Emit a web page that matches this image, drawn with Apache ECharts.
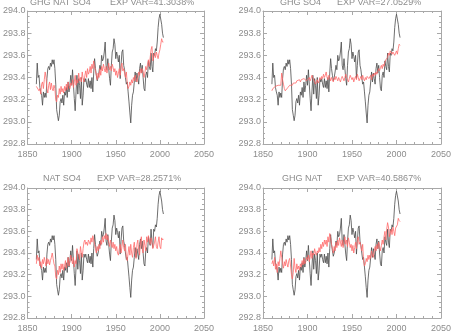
<!DOCTYPE html>
<html>
<head>
<meta charset="utf-8">
<script src="https://cdn.jsdelivr.net/npm/echarts@6/dist/echarts.min.js"></script>
<style>
  html, body { margin: 0; padding: 0; background: #fff; }
  #chart { width: 454px; height: 333px; }
</style>
</head>
<body>
<div id="chart"></div>
<script>
// Annual series, first year 1860
const firstYear = 1860;

// Observed temperature (K)
const observed = [
  293.34, 293.53, 293.40, 293.42, 293.31, 293.27, 293.24, 293.15, 293.27, 293.22,
  293.26, 293.22, 293.39, 293.48, 293.50, 293.47, 293.53, 293.50, 293.56, 293.52,
  293.56, 293.48, 293.34, 293.11, 293.06, 293.01, 293.06, 293.18, 293.21, 293.17,
  293.24, 293.15, 293.27, 293.24, 293.31, 293.22, 293.36, 293.27, 293.33, 293.42,
  293.33, 293.47, 293.34, 293.21, 293.10, 293.27, 293.42, 293.25, 293.39, 293.33,
  293.21, 293.40, 293.15, 293.24, 293.39, 293.36, 293.39, 293.34, 293.31, 293.39,
  293.31, 293.37, 293.30, 293.40, 293.27, 293.44, 293.57, 293.48, 293.42, 293.37,
  293.40, 293.45, 293.51, 293.47, 293.60, 293.55, 293.57, 293.63, 293.72, 293.51,
  293.47, 293.57, 293.48, 293.39, 293.33, 293.51, 293.63, 293.66, 293.75, 293.70,
  293.57, 293.63, 293.59, 293.54, 293.60, 293.39, 293.51, 293.63, 293.65, 293.51,
  293.47, 293.40, 293.34, 293.36, 293.27, 293.18, 293.08, 292.99, 293.15, 293.24,
  293.27, 293.36, 293.45, 293.36, 293.44, 293.39, 293.34, 293.48, 293.53, 293.44,
  293.51, 293.40, 293.30, 293.28, 293.42, 293.45, 293.40, 293.55, 293.50, 293.47,
  293.62, 293.50, 293.45, 293.62, 293.60, 293.66, 293.64, 293.72, 293.85, 293.93,
  293.97, 293.96, 293.88, 293.80, 293.76
];

// Fitted responses for each forcing combination
const fitGhgNatSo4 = [
  293.32, 293.31, 293.33, 293.28, 293.30, 293.25, 293.34, 293.36, 293.30, 293.38,
  293.45, 293.40, 293.30, 293.26, 293.33, 293.36, 293.29, 293.35, 293.30, 293.28,
  293.33, 293.30, 293.20, 293.18, 293.24, 293.22, 293.30, 293.25, 293.32, 293.27,
  293.30, 293.26, 293.32, 293.28, 293.34, 293.29, 293.36, 293.32, 293.30, 293.35,
  293.33, 293.38, 293.31, 293.36, 293.42, 293.33, 293.38, 293.35, 293.44, 293.37,
  293.40, 293.36, 293.45, 293.39, 293.36, 293.42, 293.46, 293.40, 293.48, 293.43,
  293.45, 293.50, 293.44, 293.52, 293.48, 293.55, 293.50, 293.46, 293.42, 293.38,
  293.44, 293.40, 293.48, 293.42, 293.50, 293.46, 293.52, 293.48, 293.45, 293.50,
  293.44, 293.48, 293.53, 293.47, 293.50, 293.46, 293.52, 293.49, 293.45, 293.48,
  293.42, 293.46, 293.40, 293.44, 293.48, 293.42, 293.50, 293.53, 293.46, 293.48,
  293.44, 293.40, 293.45, 293.35, 293.30, 293.32, 293.36, 293.33, 293.38, 293.35,
  293.40, 293.37, 293.42, 293.38, 293.36, 293.40, 293.45, 293.42, 293.48, 293.44,
  293.48, 293.45, 293.40, 293.44, 293.50, 293.47, 293.52, 293.56, 293.50, 293.58,
  293.65, 293.68, 293.55, 293.58, 293.62, 293.58, 293.63, 293.60, 293.57, 293.62,
  293.65, 293.70, 293.75, 293.72, 293.72
];

const fitGhgSo4 = [
  293.28, 293.30, 293.29, 293.31, 293.32, 293.31, 293.32, 293.33, 293.32, 293.34,
  293.33, 293.44, 293.38, 293.34, 293.30, 293.28, 293.27, 293.29, 293.31, 293.32,
  293.33, 293.32, 293.34, 293.33, 293.35, 293.34, 293.36, 293.35, 293.37, 293.36,
  293.37, 293.38, 293.36, 293.38, 293.39, 293.37, 293.39, 293.38, 293.40, 293.37,
  293.36, 293.38, 293.40, 293.37, 293.39, 293.42, 293.40, 293.38, 293.36, 293.34,
  293.36, 293.38, 293.35, 293.37, 293.40, 293.38, 293.41, 293.39, 293.43, 293.40,
  293.42, 293.45, 293.40, 293.38, 293.42, 293.40, 293.37, 293.40, 293.38, 293.36,
  293.40, 293.38, 293.41, 293.39, 293.37, 293.40, 293.38, 293.36, 293.39, 293.41,
  293.40, 293.37, 293.40, 293.43, 293.40, 293.38, 293.36, 293.39, 293.42, 293.40,
  293.38, 293.40, 293.36, 293.39, 293.41, 293.38, 293.43, 293.40, 293.37, 293.39,
  293.41, 293.38, 293.42, 293.39, 293.37, 293.40, 293.38, 293.41, 293.42, 293.39,
  293.40, 293.42, 293.38, 293.43, 293.41, 293.44, 293.42, 293.45, 293.43, 293.46,
  293.48, 293.46, 293.49, 293.51, 293.48, 293.52, 293.50, 293.54, 293.56, 293.55,
  293.58, 293.62, 293.60, 293.64, 293.63, 293.61, 293.63, 293.62, 293.60, 293.62,
  293.64, 293.61, 293.66, 293.70, 293.69
];

const fitNatSo4 = [
  293.30, 293.38, 293.33, 293.36, 293.28, 293.32, 293.26, 293.34, 293.30, 293.36,
  293.32, 293.28, 293.35, 293.30, 293.34, 293.29, 293.33, 293.36, 293.40, 293.35,
  293.30, 293.28, 293.18, 293.16, 293.24, 293.20, 293.28, 293.22, 293.30, 293.25,
  293.30, 293.24, 293.28, 293.33, 293.26, 293.30, 293.36, 293.28, 293.32, 293.38,
  293.34, 293.30, 293.36, 293.27, 293.33, 293.30, 293.44, 293.40, 293.38, 293.34,
  293.46, 293.40, 293.36, 293.44, 293.50, 293.52, 293.48, 293.50, 293.47, 293.52,
  293.50, 293.48, 293.54, 293.50, 293.56, 293.52, 293.48, 293.44, 293.40, 293.46,
  293.42, 293.48, 293.44, 293.52, 293.48, 293.55, 293.50, 293.56, 293.53, 293.58,
  293.52, 293.56, 293.50, 293.46, 293.52, 293.48, 293.45, 293.50, 293.44, 293.48,
  293.42, 293.46, 293.40, 293.38, 293.44, 293.48, 293.40, 293.46, 293.52, 293.45,
  293.42, 293.48, 293.36, 293.33, 293.40, 293.46, 293.38, 293.48, 293.40, 293.36,
  293.45, 293.50, 293.40, 293.35, 293.48, 293.52, 293.42, 293.38, 293.50, 293.55,
  293.44, 293.40, 293.52, 293.47, 293.42, 293.55, 293.50, 293.56, 293.52, 293.48,
  293.54, 293.50, 293.44, 293.43, 293.50, 293.55, 293.46, 293.44, 293.50, 293.55,
  293.46, 293.44, 293.54, 293.52, 293.53
];

const fitGhgNat = [
  293.30, 293.33, 293.28, 293.36, 293.25, 293.30, 293.22, 293.32, 293.28, 293.35,
  293.42, 293.36, 293.30, 293.26, 293.32, 293.28, 293.34, 293.30, 293.27, 293.33,
  293.35, 293.28, 293.20, 293.16, 293.22, 293.35, 293.26, 293.22, 293.30, 293.25,
  293.28, 293.24, 293.30, 293.27, 293.33, 293.29, 293.35, 293.30, 293.32, 293.36,
  293.34, 293.38, 293.32, 293.36, 293.42, 293.35, 293.40, 293.38, 293.44, 293.40,
  293.38, 293.42, 293.40, 293.45, 293.41, 293.48, 293.44, 293.50, 293.46, 293.52,
  293.48, 293.52, 293.46, 293.55, 293.50, 293.58, 293.54, 293.48, 293.44, 293.40,
  293.46, 293.42, 293.50, 293.45, 293.52, 293.47, 293.54, 293.50, 293.46, 293.52,
  293.45, 293.50, 293.55, 293.48, 293.52, 293.46, 293.54, 293.50, 293.45, 293.48,
  293.42, 293.47, 293.40, 293.45, 293.50, 293.44, 293.52, 293.55, 293.48, 293.50,
  293.46, 293.42, 293.48, 293.33, 293.28, 293.30, 293.35, 293.32, 293.38, 293.34,
  293.38, 293.35, 293.42, 293.38, 293.36, 293.42, 293.46, 293.42, 293.48, 293.44,
  293.50, 293.46, 293.42, 293.47, 293.52, 293.48, 293.55, 293.60, 293.52, 293.62,
  293.68, 293.64, 293.55, 293.58, 293.62, 293.57, 293.64, 293.60, 293.56, 293.63,
  293.62, 293.66, 293.72, 293.70, 293.69
];

// Panel labels
const forcingNames = ['GHG NAT SO4', 'GHG SO4', 'NAT SO4', 'GHG NAT'];
const explainedVar = ['41.3038', '27.0529', '28.2571', '40.5867'];
const fits = [fitGhgNatSo4, fitGhgSo4, fitNatSo4, fitGhgNat];

// Axis ranges
const xMin = 1850, xMax = 2050, xStep = 50;
const yMin = 292.8, yMax = 294.0, yStep = 0.2;

// Layout of the 2x2 panels
const panels = [
  { left: 23,  top: 11,  width: 181, height: 133, nameX: 30,  varX: 110, titleY: 3 },
  { left: 263, top: 11,  width: 182, height: 133, nameX: 280, varX: 337, titleY: 3 },
  { left: 23,  top: 188, width: 181, height: 133, nameX: 43,  varX: 97,  titleY: 179 },
  { left: 263, top: 188, width: 182, height: 133, nameX: 282, varX: 337, titleY: 179 }
];

const axisGrey = '#a8a8a8';
const textGrey = '#8c8c8c';
const font = 'Liberation Sans';

function pairs(arr) {
  return arr.map((v, i) => [firstYear + i, v]);
}

function xAxisDef(gi, top) {
  return {
    type: 'value', gridIndex: gi, position: top ? 'top' : 'bottom',
    min: xMin, max: xMax, interval: xStep,
    axisLine: { show: true, onZero: false, lineStyle: { color: axisGrey, width: 1 } },
    axisTick: { show: true, inside: true, length: 4, lineStyle: { color: axisGrey } },
    minorTick: { show: true, splitNumber: 5, length: 2, lineStyle: { color: axisGrey } },
    splitLine: { show: false },
    axisLabel: {
      show: !top, color: textGrey, fontFamily: font, fontSize: 9, margin: 6,
      formatter: v => String(Math.round(v))
    }
  };
}

function yAxisDef(gi, right) {
  return {
    type: 'value', gridIndex: gi, position: right ? 'right' : 'left',
    min: yMin, max: yMax, interval: yStep,
    axisLine: { show: true, onZero: false, lineStyle: { color: axisGrey, width: 1 } },
    axisTick: { show: true, inside: true, length: 4, lineStyle: { color: axisGrey } },
    minorTick: { show: true, splitNumber: 4, length: 2, lineStyle: { color: axisGrey } },
    splitLine: { show: false },
    axisLabel: {
      show: !right, color: textGrey, fontFamily: font, fontSize: 9, margin: 2,
      formatter: v => v.toFixed(1)
    }
  };
}

const grid = [], xAxis = [], yAxis = [], series = [], graphic = [];
panels.forEach((p, i) => {
  grid.push({ left: p.left, top: p.top, width: p.width, height: p.height, containLabel: false });
  xAxis.push(xAxisDef(i, false), xAxisDef(i, true));
  yAxis.push(yAxisDef(i, false), yAxisDef(i, true));
  series.push({
    type: 'line', xAxisIndex: 2 * i, yAxisIndex: 2 * i,
    data: pairs(observed), showSymbol: false, silent: true,
    lineStyle: { color: '#4a4a4a', width: 0.8 }, z: 2
  });
  series.push({
    type: 'line', xAxisIndex: 2 * i, yAxisIndex: 2 * i,
    data: pairs(fits[i]), showSymbol: false, silent: true,
    lineStyle: { color: '#ff6a6a', width: 0.8 }, z: 3
  });
  graphic.push({
    type: 'text', left: p.nameX, top: p.titleY - 5,
    style: { text: forcingNames[i], fill: textGrey, font: '9px "' + font + '"' }
  });
  graphic.push({
    type: 'text', left: p.varX, top: p.titleY - 5,
    style: { text: 'EXP VAR=' + explainedVar[i] + '%', fill: textGrey, font: '9px "' + font + '"' }
  });
});

const chart = echarts.init(document.getElementById('chart'), null, { renderer: 'canvas' });
chart.setOption({
  animation: false,
  backgroundColor: '#ffffff',
  grid, xAxis, yAxis, series, graphic
});
</script>
</body>
</html>
